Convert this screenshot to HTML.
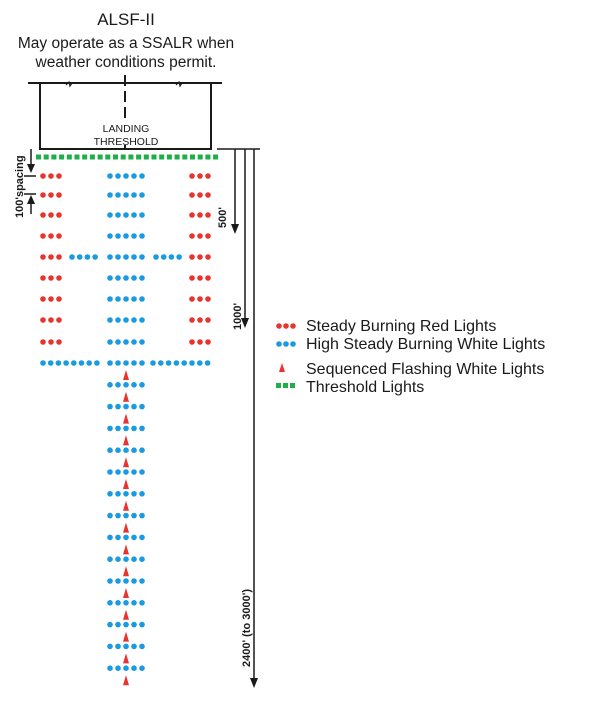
<!DOCTYPE html>
<html><head><meta charset="utf-8"><style>
body{margin:0;background:#fff;width:600px;height:716px;overflow:hidden}
svg{display:block}
text{font-family:"Liberation Sans",Arial,sans-serif;fill:#1a1a1a}
</style></head><body>
<svg id="s" width="600" height="716" viewBox="0 0 600 716" xmlns="http://www.w3.org/2000/svg">
<text x="126" y="25" font-size="17" text-anchor="middle">ALSF-II</text>
<text x="126" y="48" font-size="15.5" text-anchor="middle">May operate as a SSALR when</text>
<text x="126" y="67" font-size="15.5" text-anchor="middle">weather conditions permit.</text>
<g stroke="#1a1a1a" stroke-width="2" fill="none">
<path d="M28 83H222M40 83V149H211V83"/>
<path d="M125 75V120" stroke-dasharray="11,5"/>
<path d="M125 145V149"/>
<path d="M217 149H260" stroke-width="1.5"/>
<path d="M235 149V228M245 149V323M254 149V682" stroke-width="1.5"/>
<path d="M31 149V166M31 200V214M24 176H36M24 194H36" stroke-width="1.5"/>
</g>
<path d="M66 85l3-3 1 4 2-3" stroke="#1a1a1a" fill="none" stroke-width="1.2"/>
<path d="M176 85l3-3 1 4 2-3" stroke="#1a1a1a" fill="none" stroke-width="1.2"/>
<g fill="#1a1a1a">
<path d="M231 224h8l-4 10z"/><path d="M241 318h8l-4 10z"/><path d="M250 678h8l-4 10z"/>
<path d="M27 164h8l-4 9z"/><path d="M27 204h8l-4-9z"/>
</g>
<text x="126" y="132" font-size="10.5" text-anchor="middle">LANDING</text>
<text x="126" y="145" font-size="10.5" text-anchor="middle">THRESHOLD</text>
<text transform="translate(226,228) rotate(-90)" font-size="11" font-weight="bold">500'</text>
<text transform="translate(241,330) rotate(-90)" font-size="11" font-weight="bold">1000'</text>
<text transform="translate(250,667) rotate(-90)" font-size="11" font-weight="bold">2400' (to 3000')</text>
<text transform="translate(23,218) rotate(-90)" font-size="11" font-weight="bold">100'spacing</text>
<g id="d"></g>
<text x="306" y="331" font-size="16">Steady Burning Red Lights</text>
<text x="306" y="349" font-size="16">High Steady Burning White Lights</text>
<text x="306" y="374" font-size="16">Sequenced Flashing White Lights</text>
<text x="306" y="392" font-size="16">Threshold Lights</text>
</svg>
<script>
var g=document.getElementById('d'),h='';
function c(x,y,col){h+='<circle cx="'+x+'" cy="'+y+'" r="2.8" fill="'+col+'"/>';}
var R='#e8342f',B='#1a9ae0',G='#1fae4a';
for(var i=0;i<24;i++)h+='<rect x="'+(36+i*7.7)+'" y="154.5" width="5" height="5" fill="'+G+'"/>';
var rows=[176,195,215,236,257,278,299,320,342];
rows.forEach(function(y){
 for(var k=0;k<3;k++){c(43+k*8,y,R);c(192+k*8,y,R);}
 for(var k=0;k<5;k++)c(110+k*8,y,B);
 if(y==257)for(var k=0;k<4;k++){c(72+k*7.7,y,B);c(156+k*7.7,y,B);}
});
for(var k=0;k<8;k++){c(43+k*7.7,363,B);c(153+k*7.8,363,B);}
for(var r=0;r<15;r++){var y=363+r*21.8;for(var k=0;k<5;k++)c(110+k*8,y,B);
 var t=y+12;h+='<path d="M123 '+(t+5)+'h6l-3 -10z" fill="'+R+'"/>';}
for(var k=0;k<3;k++){c(279+k*7,326,R);c(279+k*7,344,B);h+='<rect x="'+(276+k*7)+'" y="383" width="5" height="5" fill="'+G+'"/>';}
h+='<path d="M279 372h6l-3 -9z" fill="'+R+'"/>';
g.innerHTML=h;
</script>
</body></html>
